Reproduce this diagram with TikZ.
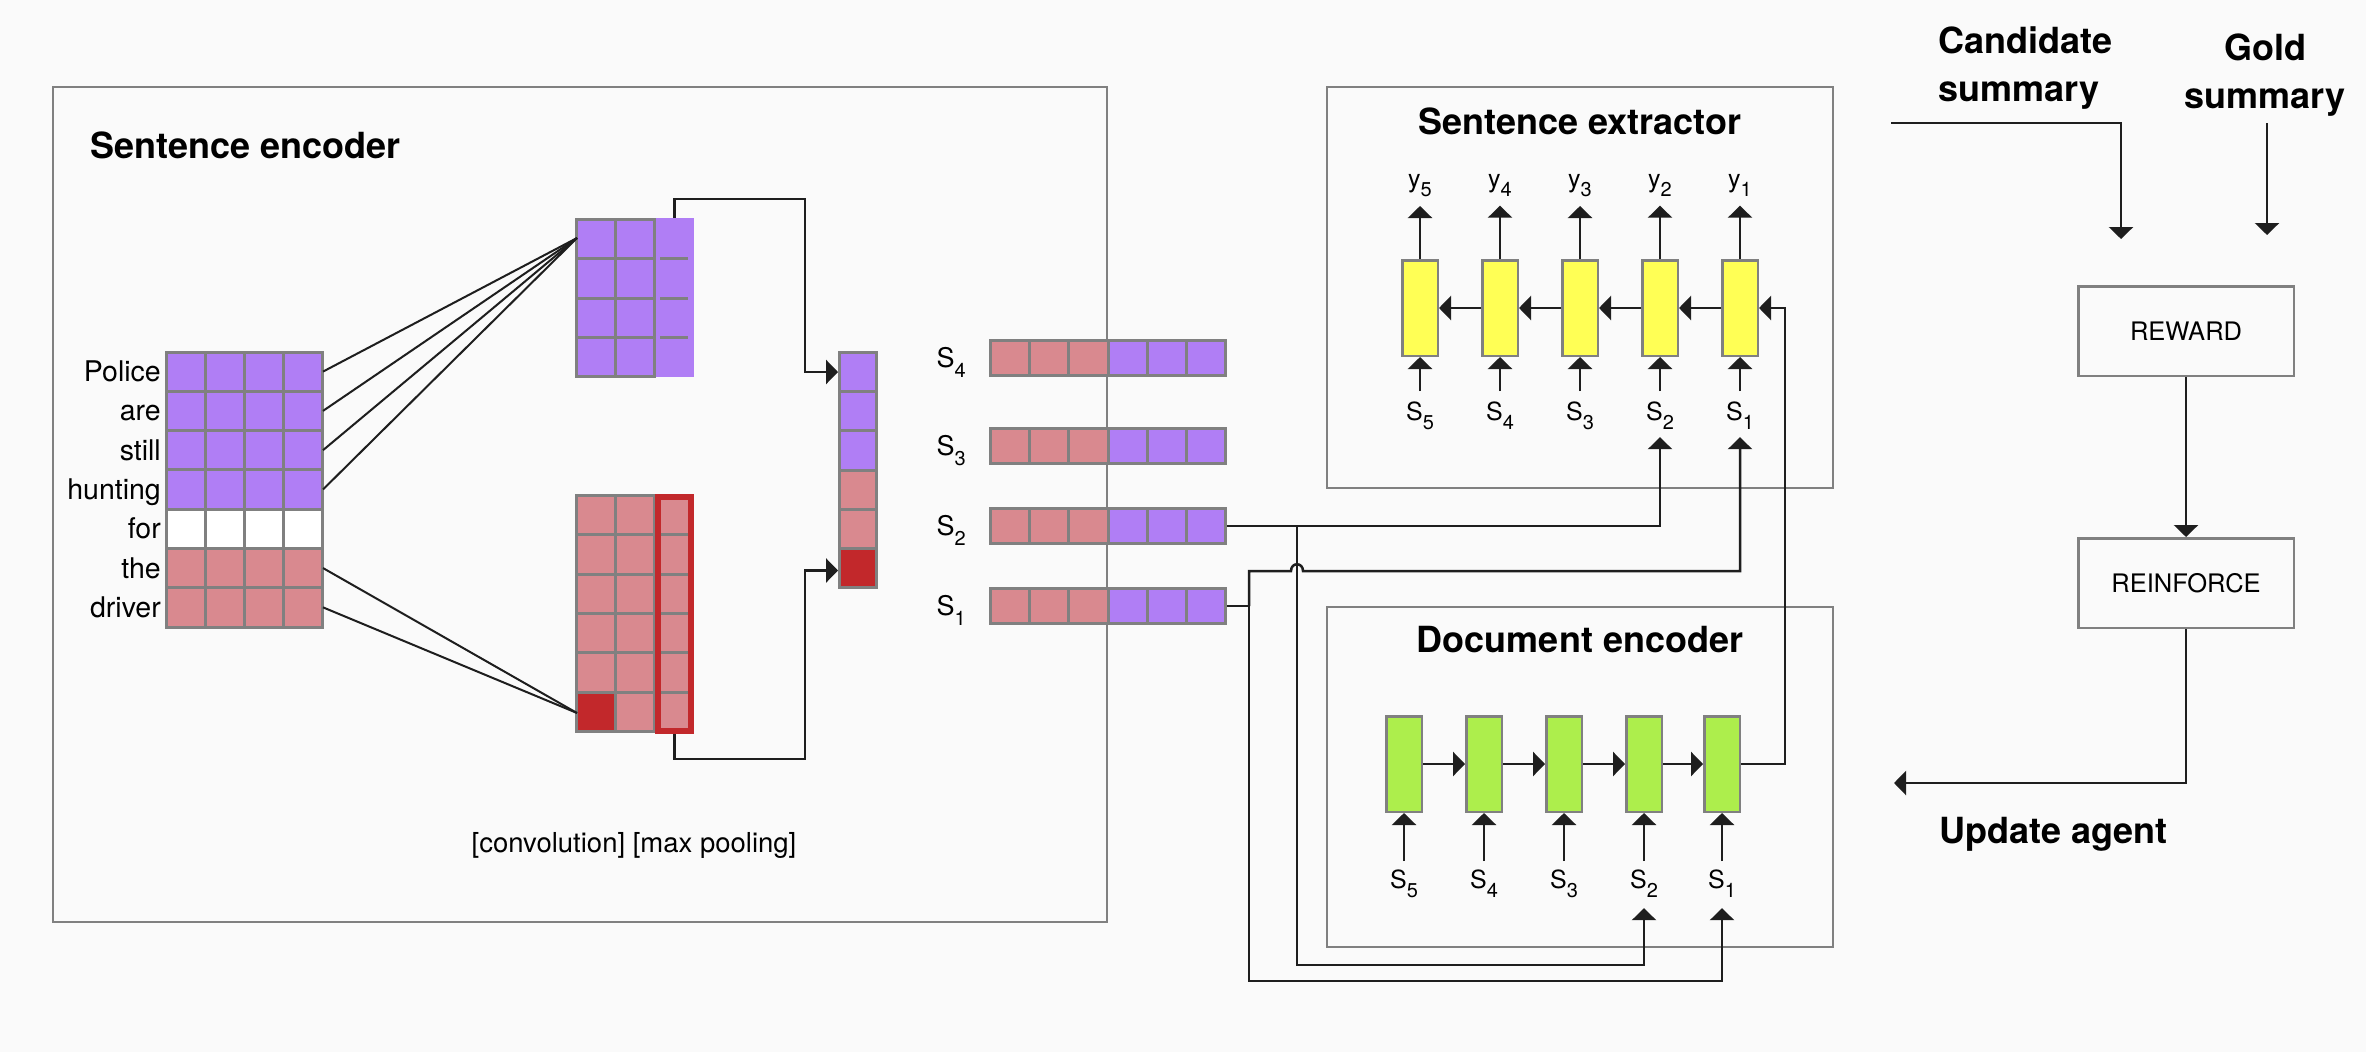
\documentclass[tikz,border=0pt]{standalone}
\usepackage{fontspec}
\setmainfont{TeX Gyre Heros}
\usetikzlibrary{arrows.meta}
\definecolor{bgc}{RGB}{250,250,250}
\definecolor{bgray}{RGB}{128,128,128}
\definecolor{purp}{RGB}{176,126,245}
\definecolor{pinkc}{RGB}{217,137,143}
\definecolor{dred}{RGB}{194,40,43}
\definecolor{yel}{RGB}{255,255,85}
\definecolor{grn}{RGB}{173,238,76}
\definecolor{ink}{RGB}{30,30,30}
\newcommand\fsz[1]{\fontsize{#1}{#1}\selectfont}
\newcommand\subl[2]{#1\raisebox{-9.5pt}{\fsz{20}#2}}
\begin{document}
\begin{tikzpicture}[x=1pt,y=-1pt,
  wire/.style={draw=ink,line width=2.5pt},
  thinw/.style={draw=ink,line width=2pt},
  arr/.style={wire,-{Triangle[length=12pt,width=24pt]}},
  cellst/.style={draw=bgray,line width=3pt},
  ycell/.style={draw=bgray,line width=2.5pt,fill=yel,minimum width=35.5pt,minimum height=95.5pt,inner sep=0pt},
  gcell/.style={ycell,fill=grn},
  panel/.style={draw=bgray,line width=2.5pt},
  ttl/.style={font=\fsz{36}\bfseries,inner sep=0pt},
  ttltwo/.style={font=\fontsize{36}{48}\selectfont\bfseries,inner sep=0pt},
  word/.style={font=\fsz{28.5},inner sep=0pt,anchor=base east},
  slab/.style={font=\fsz{25},inner sep=0pt,anchor=base},
  slabL/.style={font=\fsz{27},inner sep=0pt,anchor=base east},
  rbox/.style={draw=bgray,line width=2.5pt,minimum width=215.5pt,minimum height=89.5pt,font=\fsz{25.5},inner sep=0pt},
]
\fill[bgc] (0,0) rectangle (2366,1052);
\useasboundingbox (0,0) rectangle (2366,1052);

% ---------- Sentence encoder ----------
\draw[panel] (53,87) rectangle (1107,922);
\node[ttl,anchor=base west] (tse) at (90,158) {Sentence encoder};

% word matrix
\foreach \r/\col in {0/purp,1/purp,2/purp,3/purp,4/white,5/pinkc,6/pinkc} {
  \foreach \c in {0,...,3} {
    \filldraw[cellst,fill=\col] ({166+39*\c},{352+39.29*\r}) rectangle ++(39,39.29);
  }
}
\foreach \w [count=\r from 0] in {Police,are,still,hunting,for,the,driver}
  \node[word] (w\r) at (161,{381.6+39.29*\r}) {\w};

% upper conv matrix
\fill[purp] (654.5,218) rectangle (694,376.5);
\foreach \r in {0,...,3} {
  \foreach \c in {0,1} {
    \filldraw[cellst,fill=purp] ({576.5+39*\c},{219.5+39.25*\r}) rectangle ++(39,39.25);
  }
}
\foreach \r in {1,2,3} \draw[bgray,line width=3pt] (660,{219.5+39.25*\r}) -- (688,{219.5+39.25*\r});

% lower conv matrix
\fill[pinkc] (654.5,494) rectangle (694,733);
\foreach \r in {0,...,5} {
  \foreach \c in {0,1} {
    \filldraw[cellst,fill=pinkc] ({576.5+39*\c},{495.5+39.33*\r}) rectangle ++(39,39.33);
  }
}
\filldraw[cellst,fill=dred] (576.5,{495.5+39.33*5}) rectangle ++(39,39.33);
\foreach \r in {1,...,5} \draw[bgray,line width=3pt] (660,{495.5+39.33*\r}) -- (688,{495.5+39.33*\r});
\draw[dred,line width=6pt] (657.5,497) rectangle (691,731);

% pooled vector
\foreach \r/\col in {0/purp,1/purp,2/purp,3/pinkc,4/pinkc,5/dred}
  \filldraw[cellst,fill=\col] (839.5,{352.5+39.17*\r}) rectangle ++(37,39.17);

% convolution lines
\coordinate (cu) at (577,238);
\coordinate (cl) at (577,713);
\foreach \r in {0,...,3} \draw[thinw] (323,{371.6+39.29*\r}) -- (cu);
\foreach \r in {5,6} \draw[thinw] (323,{371.6+39.29*\r}) -- (cl);

% pooling arrows
\coordinate (uo) at (674.5,218);
\coordinate (lo) at (674.5,734);
\coordinate (p1) at (838,372);
\coordinate (p6) at (838,570.5);
\draw[arr] (uo) |- (805,199) |- (p1);
\draw[arr] (lo) |- (805,759) |- (p6);

\node[font=\fsz{27.5},inner sep=0pt,anchor=base] (cap) at (634,852) {[convolution] [max pooling]};

% sentence vectors
\foreach \k/\yc in {4/358,3/446,2/526,1/606} {
  \foreach \c/\col in {0/pinkc,1/pinkc,2/pinkc,3/purp,4/purp,5/purp}
    \filldraw[cellst,fill=\col] ({990.5+39.17*\c},{\yc-17.5}) rectangle ++(39.17,35);
  \node[inner sep=0pt,outer sep=0pt,minimum width=238pt,minimum height=38pt] (v\k) at (1108,\yc) {};
  \node[slabL] (sl\k) at (966,{\yc+9.5}) {\subl{S}{\k}};
}

% ---------- Sentence extractor ----------
\draw[panel] (1327,87) rectangle (1833,488);
\node[ttl,anchor=base] (tex) at (1580,134) {Sentence extractor};
\foreach \i/\x in {1/1740,2/1660,3/1580,4/1500,5/1420} {
  \node[ycell] (e\i) at (\x,308) {};
  \node[slab] (ey\i) at (\x,187) {\subl{y}{\i}};
  \node[slab] (es\i) at (\x,420) {\subl{S}{\i}};
}
\foreach \i in {1,...,5} {
  \draw[arr,shorten >=9pt] (e\i.north) -- (e\i.north |- ey\i.south);
  \draw[arr,shorten <=10pt] (e\i.south |- es\i.north) -- (e\i.south);
}
\foreach \a/\b in {1/2,2/3,3/4,4/5} \draw[arr] (e\a.west) -- (e\b.east);

% ---------- Document encoder ----------
\draw[panel] (1327,607) rectangle (1833,947);
\node[ttl,anchor=base] (tde) at (1580,652) {Document encoder};
\foreach \i/\x in {1/1722,2/1644,3/1564,4/1484,5/1404} {
  \node[gcell] (d\i) at (\x,764) {};
  \node[slab] (ds\i) at (\x,888) {\subl{S}{\i}};
}
\foreach \i in {1,...,5}
  \draw[arr,shorten <=8pt] (d\i.south |- ds\i.north) -- (d\i.south);
\foreach \a/\b in {5/4,4/3,3/2,2/1} \draw[arr] (d\a.east) -- (d\b.west);

% document encoder output to extractor
\coordinate (dout) at (1785,764);
\draw[arr] (d1.east) -- (dout) |- (e1.east);

% S2 wires
\coordinate (j2) at (1297,526);
\coordinate (jb2) at (1297,965);
\draw[arr,shorten >=7.5pt] (v2.east) -| (es2.south);
\draw[arr,shorten >=10.5pt] (j2) -- (jb2) -| (ds2.south);

% S1 wires
\coordinate (k1) at (1249,606);
\coordinate (k2) at (1249,571);
\coordinate (k3) at (1249,981);
\draw[wire] (v1.east) -- (k1);
\draw[arr,shorten >=7.5pt] (k1) -- (k2) -- (1291,571) .. controls (1291,562) and (1303,562) .. (1303,571) -| (es1.south);
\draw[arr,shorten >=10.5pt] (k1) -- (k3) -| (ds1.south);

% ---------- Reward side ----------
\node[ttltwo,anchor=north west,align=left] (cand) at (1938,26) {Candidate\\summary};
\node[ttltwo,anchor=north,align=center] (gold) at (2265,34) {Gold\\summary};
\coordinate (cs) at (1891,123);
\coordinate (ct) at (2121,239);
\coordinate (gs) at (2267,123);
\coordinate (gt) at (2267,235);
\draw[arr] (cs) -| (ct);
\draw[arr] (gs) -- (gt);

\node[rbox] (rew) at (2186,331) {REWARD};
\node[rbox] (rein) at (2186,583) {REINFORCE};
\draw[arr] (rew.south) -- (rein.north);
\coordinate (ua) at (1894,783);
\draw[arr] (rein.south) |- (ua);
\node[ttl,anchor=base west] (upd) at (1939,843) {Update agent};
\end{tikzpicture}
\end{document}
